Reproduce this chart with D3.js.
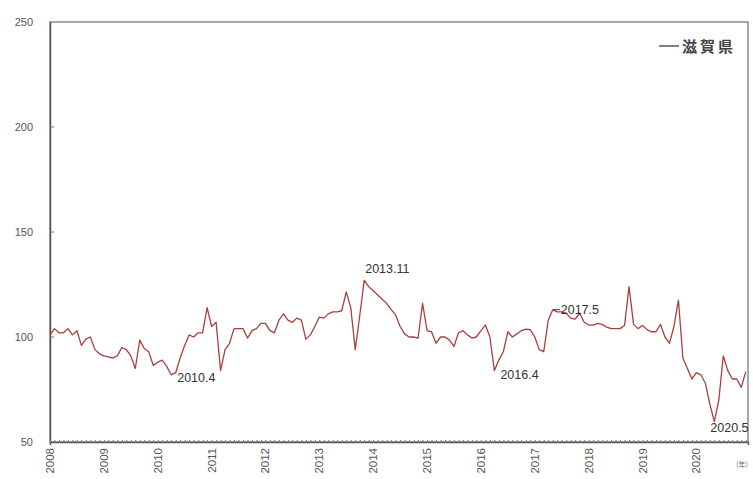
<!DOCTYPE html>
<html><head><meta charset="utf-8">
<script src="https://cdn.jsdelivr.net/npm/d3@7"></script>
<style>body{margin:0;background:#fff}svg{display:block}</style>
</head><body>
<svg id="chart" width="753" height="479"></svg>
<script>
// Monthly index values, 2008.1 – 2020.12
const years = ["2008","2009","2010","2011","2012","2013","2014","2015","2016","2017","2018","2019","2020"];
const yTicks = [50, 100, 150, 200, 250];
const seriesName = "滋賀県";
const values = [
  101,104,102,102,104,101,103,96,99,100,94,92,          // 2008
  91,90.5,90,91,95,94,91,85,98.5,94.5,93,86.5,          // 2009
  88,89,86,82,83,90,96,101,100,102,102,114,             // 2010
  105,107,84,94,97,104,104,104,99.5,103,104,106.5,      // 2011
  106.5,103,102,108,111,108,107,109,108,99,101,105,     // 2012
  109.5,109,111,112,112,112.5,121.5,114,94,110,127,124, // 2013
  122,120,118,116,113,110.5,105,101.5,100,100,99.5,116, // 2014
  103,102.5,97,100,100,98.5,95.5,102,103,101,99.5,100,  // 2015
  103,105.7,100,84,89,93,102.5,100,101.5,103,103.7,103.5, // 2016
  100,94,93,108,113,112,112,111.4,109,108.5,111.4,107,  // 2017
  105.7,105.7,106.5,106,104.7,104,104,104,105.5,124,106,104, // 2018
  105.5,103.5,102.5,102.5,106,100,97,105,117.6,90,85,80, // 2019
  83,82,78,68,59.7,70,91,84,80,80,76,83.5               // 2020
];
const annotations = [
  {label:"2010.4", idx:27},
  {label:"2013.11", idx:70},
  {label:"2016.4", idx:99},
  {label:"2017.5", idx:112},
  {label:"2020.5", idx:148}
];

const svg = d3.select("#chart");
const L = 50, R = 748, T = 22, B = 442;
const x = d3.scaleLinear().domain([0, 155.5]).range([L, R]);
const y = d3.scaleLinear().domain([50, 250]).range([B, T]);
const font = "Liberation Sans, Arial, sans-serif";

// frame
svg.append("rect").attr("x", L).attr("y", T).attr("width", R - L).attr("height", B - T)
  .attr("fill", "none").attr("stroke", "#8a8a8a").attr("stroke-width", 1.5);

// left axis
const yAxis = d3.axisLeft(y).tickValues(yTicks).tickSize(0).tickPadding(17);
const gy = svg.append("g").attr("transform", `translate(${L},0)`).call(yAxis);
gy.select(".domain").attr("stroke", "#555").attr("stroke-width", 1.5);
gy.selectAll("text").attr("font-family", font).attr("font-size", 11).attr("fill", "#555");
// inward small ticks
svg.append("g").selectAll("line").data(yTicks.slice(1, -1)).join("line")
  .attr("x1", L).attr("x2", L + 4).attr("y1", d => y(d)).attr("y2", d => y(d))
  .attr("stroke", "#777").attr("stroke-width", 1);

// bottom axis with monthly ticks
const monthTicks = d3.range(0, 156);
const xAxis = d3.axisBottom(x).tickValues(monthTicks).tickSize(3).tickFormat("");
const gx = svg.append("g").attr("transform", `translate(0,${B})`).call(xAxis);
gx.select(".domain").attr("stroke", "#555").attr("stroke-width", 1.5);
gx.selectAll(".tick line").attr("stroke", "#777").attr("stroke-width", 1).attr("transform", "translate(0,-2)");

// year labels rotated
svg.append("g").selectAll("text").data(years).join("text")
  .attr("transform", (d, i) => `translate(${x(i * 12) + 4},${B + 6}) rotate(-90)`)
  .attr("text-anchor", "end")
  .attr("font-family", font).attr("font-size", 11.5).attr("fill", "#555")
  .text(d => d);
svg.append("text").attr("x", 742).attr("y", 467).attr("text-anchor", "middle")
  .attr("font-family", "Noto Sans CJK JP, sans-serif").attr("font-size", 7).attr("fill", "#666").text("(年)");

// line
const line = d3.line().x((d, i) => x(i)).y(d => y(d));
svg.append("path").datum(values).attr("d", line)
  .attr("fill", "none").attr("stroke", "#a8403e").attr("stroke-width", 1.3).attr("stroke-linejoin", "round");

// annotations
const annOffsets = {"2010.4":[6,7], "2013.11":[1,-7], "2016.4":[6,8], "2017.5":[8,4], "2020.5":[-4,10]};
svg.append("g").selectAll("text").data(annotations).join("text")
  .attr("x", d => x(d.idx) + annOffsets[d.label][0])
  .attr("y", d => y(values[d.idx]) + annOffsets[d.label][1])
  .attr("font-family", font).attr("font-size", 12.5).attr("fill", "#333")
  .text(d => d.label);
// small leader for 2017.5
const a = annotations[3];
svg.append("line").attr("x1", x(a.idx) + 1).attr("x2", x(a.idx) + 7)
  .attr("y1", y(values[a.idx])).attr("y2", y(values[a.idx]))
  .attr("stroke", "#333").attr("stroke-width", 1);

// legend
svg.append("line").attr("x1", 659).attr("x2", 679).attr("y1", 46).attr("y2", 46)
  .attr("stroke", "#555").attr("stroke-width", 1.5);
svg.append("text").attr("x", 682).attr("y", 52)
  .attr("font-family", "Noto Sans CJK JP, sans-serif").attr("font-size", 15).attr("font-weight", "bold")
  .attr("letter-spacing", 3).attr("fill", "#444")
  .text(seriesName);
</script>
</body></html>
